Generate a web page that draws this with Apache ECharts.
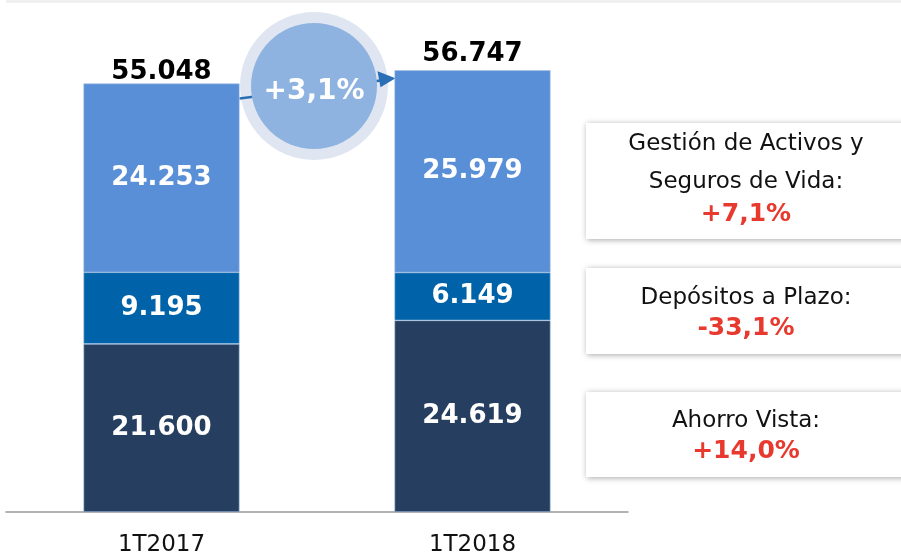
<!DOCTYPE html>
<html>
<head>
<meta charset="utf-8">
<script src="https://cdn.jsdelivr.net/npm/echarts@6/dist/echarts.min.js"></script>
<style>
  html, body { margin: 0; padding: 0; background: #fff; }
  #chart { width: 901px; height: 557px; }
</style>
</head>
<body>
<div id="chart"></div>
<script>
// datos
var periodos = ['1T2017', '1T2018'];
var ahorroVista = [21600, 24619];
var depositosPlazo = [9195, 6149];
var gestionActivos = [24253, 25979];
var totales = [55048, 56747];
var variacionTotal = '+3,1%';
var cajas = [
  { titulo: 'Gestión de Activos y\nSeguros de Vida:', valor: '+7,1%' },
  { titulo: 'Depósitos a Plazo:', valor: '-33,1%' },
  { titulo: 'Ahorro Vista:', valor: '+14,0%' }
];

var fuente = '"DejaVu Sans", sans-serif';

function fmt(n) {
  return String(n).replace(/\B(?=(\d{3})+(?!\d))/g, '.');
}

var chart = echarts.init(document.getElementById('chart'));

var etiquetaBlanca = {
  show: true,
  position: 'inside',
  color: '#fff',
  fontFamily: fuente,
  fontWeight: 'bold',
  fontSize: 26,
  formatter: function (p) { return fmt(p.value); }
};

function serie(nombre, datos, color) {
  return {
    name: nombre,
    type: 'bar',
    stack: 'total',
    barWidth: 156,
    data: datos,
    itemStyle: { color: color, borderColor: '#9fbde3', borderWidth: 0.6 },
    label: etiquetaBlanca
  };
}

// las cajas de la derecha
var graficos = [
  { type: 'rect', shape: { x: 0, y: 0, width: 895, height: 3 }, left: 6, top: 0, style: { fill: '#f0f0f0' }, silent: true }
];
var cajaPos = [[123, 116, [144, 182, 214]], [268, 86, [298, 328]], [392, 85, [421, 451]]];
cajas.forEach(function (c, i) {
  var p = cajaPos[i];
  graficos.push({
    type: 'rect',
    shape: { x: 586, y: p[0], width: 330, height: p[1] },
    style: { fill: '#fff', shadowBlur: 6, shadowColor: 'rgba(0,0,0,0.35)', shadowOffsetX: 1, shadowOffsetY: 1 },
    silent: true
  });
  var lineas = c.titulo.split('\n');
  lineas.forEach(function (t, j) {
    graficos.push({
      type: 'text',
      x: 746, y: p[2][j],
      style: { text: t, fill: '#111', font: '23px ' + fuente, align: 'center', verticalAlign: 'middle' },
      silent: true
    });
  });
  graficos.push({
    type: 'text',
    x: 746, y: p[2][lineas.length],
    style: { text: c.valor, fill: '#e8392f', font: 'bold 25px ' + fuente, align: 'center', verticalAlign: 'middle' },
    silent: true
  });
});

chart.setOption({
  animation: false,
  grid: { left: 6, right: 273, top: 45, bottom: 41 },
  xAxis: {
    type: 'category',
    data: periodos,
    axisTick: { show: false },
    axisLine: { lineStyle: { color: '#999', width: 1.5 } },
    axisLabel: { color: '#111', fontFamily: fuente, fontSize: 23, margin: 22 }
  },
  yAxis: { type: 'value', min: 0, max: 60000, show: false, splitLine: { show: false } },
  series: [
    serie('Ahorro Vista', ahorroVista, '#263f60'),
    serie('Depósitos a Plazo', depositosPlazo, '#0062a8'),
    serie('Gestión de Activos y Seguros de Vida', gestionActivos, '#588fd6'),
    {
      name: 'Total',
      type: 'bar',
      stack: 'total',
      barWidth: 156,
      data: [
        { value: 0, label: { distance: -2 } },
        { value: 0, label: { distance: 3 } }
      ],
      itemStyle: { color: 'transparent' },
      label: {
        show: true,
        position: 'top',
        color: '#000',
        fontFamily: fuente,
        fontWeight: 'bold',
        fontSize: 26,
        formatter: function (p) { return fmt(totales[p.dataIndex]); }
      }
    }
  ],
  graphic: graficos
});

// circulo y flecha entre las dos barras
var a = chart.convertToPixel({ gridIndex: 0 }, [0, totales[0]]);
var b = chart.convertToPixel({ gridIndex: 0 }, [1, totales[1]]);
var x1 = a[0] + 78, y1 = a[1] + 15;
var x2 = b[0] - 78, y2 = b[1] + 8;
var cx = (x1 + x2) / 2 - 3, cy = 86;
graficos.push(
  { type: 'circle', shape: { cx: cx, cy: cy, r: 74 }, style: { fill: '#dfe6f1' }, silent: true },
  {
    type: 'line',
    shape: { x1: x1, y1: y1, x2: x2 - 12, y2: y2 + 2 },
    style: { stroke: '#2a6fb5', lineWidth: 2.5 },
    silent: true
  },
  { type: 'circle', shape: { cx: cx, cy: cy, r: 63 }, style: { fill: '#8fb3e1' }, silent: true },
  {
    type: 'polygon',
    shape: { points: [[x2 + 1, y2], [x2 - 17, y2 - 7], [x2 - 14, y2 + 9]] },
    style: { fill: '#2a6fb5' },
    silent: true
  },
  {
    type: 'text', x: cx, y: cy + 6,
    style: { text: variacionTotal, fill: '#fff', font: 'bold 28px ' + fuente, align: 'center', verticalAlign: 'middle' },
    silent: true
  }
);
chart.setOption({ graphic: graficos }, { replaceMerge: ['graphic'] });
</script>
</body>
</html>
